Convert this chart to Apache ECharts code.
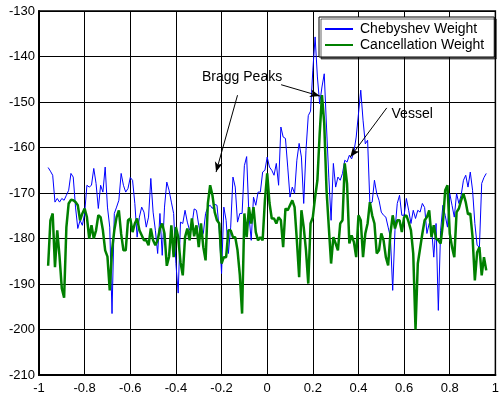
<!DOCTYPE html>
<html>
<head>
<meta charset="utf-8">
<script src="https://cdn.jsdelivr.net/npm/echarts@6/dist/echarts.min.js"></script>
<style>
  html, body { margin: 0; padding: 0; background: #fff; }
  #chart { width: 502px; height: 398px; }
</style>
</head>
<body>
<div id="chart"></div>
<script>
// Sample grid along the normalized angle axis
const X_START = -0.96;
const X_STEP = 0.01;

// Beam response (dB) with Chebyshev weighting
const chebyshev = [
  -164.4, -165.2, -166.1, -172.0, -171.2, -172.0, -171.2, -171.6, -170.5, -169.4,
  -165.7, -166.5, -173.1, -177.8, -176.0, -177.1, -174.5, -168.3, -168.7, -168.3,
  -164.6, -167.9, -173.4, -168.3, -169.8, -164.3, -173.1, -177.5, -196.5, -174.5,
  -173.1, -171.6, -165.7, -168.3, -169.8, -169.0, -166.6, -167.2, -172.3, -179.7,
  -175.3, -173.1, -174.2, -177.5, -175.3, -166.8, -174.2, -178.2, -183.3, -174.5,
  -183.7, -173.1, -167.6, -169.4, -172.0, -174.5, -185.5, -192.0, -176.4, -176.7,
  -173.8, -176.4, -178.2, -177.1, -173.5, -173.8, -177.1, -179.7, -178.9, -174.5,
  -173.1, -172.7, -173.4, -172.5, -172.7, -178.2, -187.7, -173.1, -176.0, -183.3,
  -177.5, -166.5, -168.7, -176.4, -174.5, -174.5, -164.0, -162.0, -174.9, -180.4,
  -170.9, -172.7, -169.8, -169.8, -165.4, -165.0, -162.1, -164.3, -165.0, -166.1,
  -163.5, -168.3, -155.5, -157.7, -158.0, -164.3, -170.9, -168.7, -170.1, -162.8,
  -159.1, -162.1, -172.3, -160.6, -153.0, -152.0, -143.0, -135.7, -144.5, -150.4,
  -146.7, -143.8, -155.5, -166.5, -176.0, -163.5, -168.7, -166.5, -167.2, -165.7,
  -162.8, -163.2, -161.7, -162.5, -161.0, -157.7, -152.6, -147.4, -154.0, -159.2,
  -158.4, -172.3, -172.0, -167.2, -170.1, -171.6, -174.2, -174.9, -175.3, -177.5,
  -179.7, -191.4, -178.2, -172.3, -170.5, -174.9, -174.9, -171.2, -173.8, -176.7,
  -173.8, -175.6, -173.8, -174.2, -172.3, -173.2, -178.9, -176.7, -177.5, -184.1,
  -176.7, -195.8, -178.2, -172.7, -174.9, -177.5, -170.1, -172.7, -175.3, -170.1,
  -172.3, -170.5, -167.2, -166.1, -168.7, -165.4, -169.4, -176.7, -181.5, -181.9,
  -167.9, -166.6, -165.7
];

// Beam response (dB) with cancellation weighting
const cancellation = [
  -186.0, -176.0, -174.5, -186.3, -178.2, -184.0, -191.0, -193.0, -177.5, -172.3,
  -171.5, -171.6, -172.0, -172.7, -176.0, -174.5, -173.4, -175.3, -180.0, -177.1,
  -180.0, -178.2, -174.9, -175.3, -178.2, -182.6, -184.0, -191.4, -182.6, -178.2,
  -175.3, -173.8, -179.0, -182.6, -182.6, -176.0, -175.6, -178.6, -176.7, -175.6,
  -178.2, -179.3, -180.4, -180.4, -181.5, -177.8, -180.4, -181.5, -180.4, -177.8,
  -176.7, -178.9, -186.0, -184.0, -177.1, -184.1, -177.5, -179.7, -185.2, -188.1,
  -179.7, -177.8, -180.4, -175.6, -179.5, -177.1, -181.9, -176.7, -181.9, -184.8,
  -172.3, -168.3, -170.5, -174.2, -176.0, -176.7, -185.5, -184.1, -184.1, -178.2,
  -178.2, -179.7, -179.7, -182.6, -188.0, -196.5, -174.5, -179.7, -173.1, -176.7,
  -173.1, -178.6, -180.4, -179.7, -180.4, -171.6, -165.7, -172.2, -175.6, -175.6,
  -176.7, -175.3, -176.0, -181.9, -173.4, -173.8, -172.7, -171.6, -173.1, -180.4,
  -188.5, -173.8, -177.5, -182.6, -189.9, -176.7, -175.3, -170.9, -167.2, -157.0,
  -148.5, -154.7, -169.4, -177.5, -185.5, -179.7, -181.1, -182.6, -176.7, -176.0,
  -163.5, -168.0, -181.1, -179.3, -180.8, -184.1, -174.9, -176.0, -184.1, -178.9,
  -176.7, -172.0, -174.9, -176.7, -183.3, -182.6, -178.9, -180.4, -184.1, -185.9,
  -178.9, -174.9, -177.8, -176.0, -176.0, -178.6, -175.3, -174.9, -176.4, -178.2,
  -183.3, -200.0, -185.5, -182.2, -178.9, -176.0, -175.3, -173.8, -179.7, -177.1,
  -180.0, -180.4, -181.1, -176.7, -169.4, -168.3, -178.9, -181.9, -184.1, -174.2,
  -173.4, -171.6, -170.1, -172.0, -174.7, -174.5, -179.7, -189.2, -183.0, -181.9,
  -188.1, -184.1, -187.0
];

// Axis ranges and ticks
const X_MIN = -1, X_MAX = 1, X_INTERVAL = 0.2;
const Y_MIN = -210, Y_MAX = -130, Y_INTERVAL = 10;

// Annotation anchors in data coordinates
const braggLabel = { text: 'Bragg Peaks', at: [-0.110, -144.6] };
const braggArrows = [
  [[-0.130, -148.5], [-0.224, -165.4]],
  [[0.061, -146.2], [0.231, -148.7]]
];
const vesselLabel = { text: 'Vessel', at: [0.545, -152.6] };
const vesselArrow = [[0.524, -151.3], [0.364, -162.1]];

const FONT = '"Liberation Sans", Arial, sans-serif';

function toPairs(values) {
  return values.map((v, i) => [+(X_START + i * X_STEP).toFixed(4), v]);
}

function fmtX(v) {
  const r = Math.round(v * 10) / 10;
  return r === 0 ? '0' : String(r);
}

const chart = echarts.init(document.getElementById('chart'), null, { renderer: 'canvas' });

chart.setOption({
  animation: false,
  backgroundColor: '#fff',
  textStyle: { fontFamily: FONT },
  grid: {
    left: 39, right: 1, top: 11, bottom: 23,
    show: true, borderColor: '#000', borderWidth: 1.5
  },
  legend: {
    orient: 'vertical',
    left: 319, top: 17,
    backgroundColor: '#fff',
    borderColor: '#000', borderWidth: 1,
    shadowColor: 'rgba(0,0,0,0.6)', shadowBlur: 0, shadowOffsetX: 2, shadowOffsetY: 2,
    padding: [5, 10, 5, 5],
    itemWidth: 28, itemHeight: 14, itemGap: 2,
    itemStyle: { opacity: 0 },
    textStyle: { fontFamily: FONT, fontSize: 14, color: '#000', padding: [0, 0, 0, 2] },
    data: ['Chebyshev Weight', 'Cancellation Weight']
  },
  xAxis: {
    type: 'value',
    min: X_MIN, max: X_MAX, interval: X_INTERVAL,
    axisLine: { show: true, onZero: false, lineStyle: { color: '#000', width: 2 } },
    axisTick: { show: false },
    axisLabel: {
      color: '#000', fontFamily: FONT, fontSize: 13, margin: 7,
      formatter: fmtX
    },
    splitLine: { show: true, lineStyle: { color: '#000', width: 1 } }
  },
  yAxis: {
    type: 'value',
    min: Y_MIN, max: Y_MAX, interval: Y_INTERVAL,
    axisLine: { show: true, onZero: false, lineStyle: { color: '#000', width: 2 } },
    axisTick: { show: false },
    axisLabel: { color: '#000', fontFamily: FONT, fontSize: 13, margin: 4 },
    splitLine: { show: true, lineStyle: { color: '#000', width: 1 } }
  },
  series: [
    {
      name: 'Chebyshev Weight',
      type: 'line',
      data: toPairs(chebyshev),
      symbol: 'none',
      lineStyle: { color: '#0000ff', width: 1 },
      itemStyle: { color: '#0000ff' },
      z: 3
    },
    {
      name: 'Cancellation Weight',
      type: 'line',
      data: toPairs(cancellation),
      symbol: 'none',
      lineStyle: { color: '#008000', width: 2.5 },
      itemStyle: { color: '#008000' },
      z: 4,
      markLine: {
        silent: true,
        symbol: ['none', 'arrow'],
        symbolSize: [6, 10],
        lineStyle: { color: '#000', width: 1, type: 'solid' },
        label: { show: false },
        data: braggArrows.concat([vesselArrow]).map(seg => [
          { coord: seg[0] }, { coord: seg[1] }
        ])
      },
      markPoint: {
        silent: true,
        symbol: 'circle',
        symbolSize: 0,
        label: {
          show: true, position: 'inside',
          color: '#000', fontFamily: FONT, fontSize: 14,
          formatter: p => p.name
        },
        data: [
          { name: braggLabel.text, coord: braggLabel.at },
          {
            name: vesselLabel.text, coord: vesselLabel.at,
            label: { position: 'right', distance: 0 }
          }
        ]
      }
    }
  ]
});
</script>
</body>
</html>
